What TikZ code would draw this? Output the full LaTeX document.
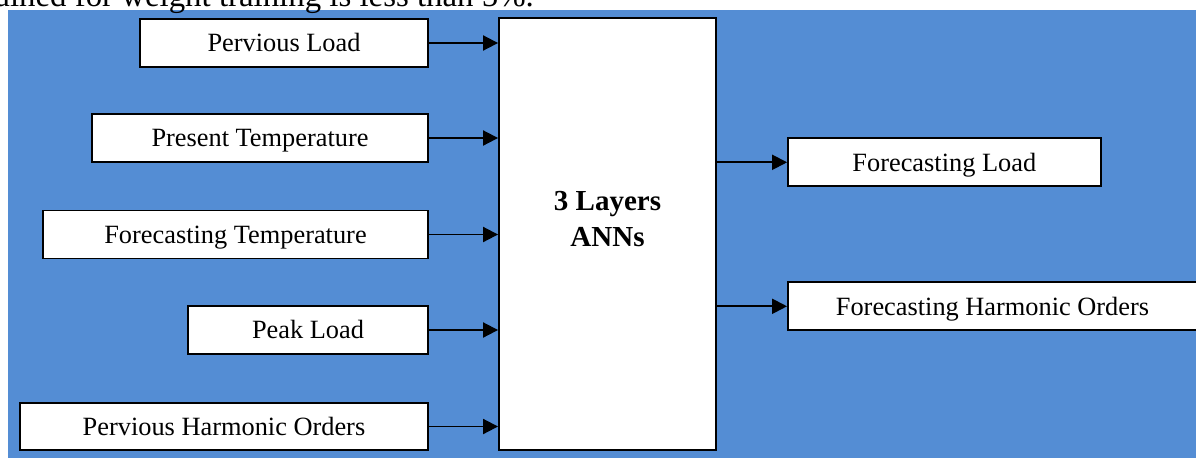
\documentclass[tikz,border=0pt]{standalone}
\usepackage{fontspec}
\setmainfont{Liberation Serif}
\usetikzlibrary{arrows.meta}
\definecolor{panelblue}{RGB}{84,141,212}
\begin{document}
\begin{tikzpicture}[x=0.02cm,y=-0.02cm,
  inbox/.style={draw,fill=white,line width=1.1pt,inner sep=0pt,minimum height=0.96cm,font=\fontsize{15}{18}\selectfont,text height=9.9pt,text depth=0pt},
  feed/.style={-{Triangle[length=0.3cm,width=0.3cm]},line width=1.1pt}]
  \useasboundingbox (0,0) rectangle (1196,457);
  \fill[panelblue] (8,10) rectangle (1197,458);
  \node[anchor=base east,font=\fontsize{18.7}{22}\selectfont] (caption) at (540,6) {obtained for weight training is less than 5\%.};
  \node[draw,fill=white,line width=1.1pt,minimum width=4.34cm,minimum height=8.64cm] (ann) at (607.5,234) {};
  \node[align=center,font=\fontsize{16.5}{21}\selectfont\bfseries] (annText) at (607.5,219) {3 Layers\\ANNs};
  \node[inbox,minimum width=5.76cm] (prevLoad) at (284,43) {Pervious Load};
  \node[inbox,minimum width=6.72cm] (presTemp) at (260,138) {Present Temperature};
  \node[inbox,minimum width=7.7cm] (foreTemp) at (235.5,234.5) {Forecasting Temperature};
  \node[inbox,minimum width=4.8cm] (peakLoad) at (308,330) {Peak Load};
  \node[inbox,minimum width=8.16cm,minimum height=0.94cm] (prevHarm) at (224,426.5) {Pervious Harmonic Orders};
  \node[inbox,minimum width=6.25cm] (foreLoad) at (944.3,162.3) {Forecasting Load};
  \node[inbox,minimum width=8.18cm] (foreHarm) at (992.5,306.3) {Forecasting Harmonic Orders};
  \foreach \src in {prevLoad,presTemp,foreTemp,peakLoad,prevHarm}
    \draw[feed] (\src.east) -- (\src.east -| ann.west);
  \draw[feed] (foreLoad.west -| ann.east) -- (foreLoad.west);
  \draw[feed] (foreHarm.west -| ann.east) -- (foreHarm.west);
\end{tikzpicture}
\end{document}
